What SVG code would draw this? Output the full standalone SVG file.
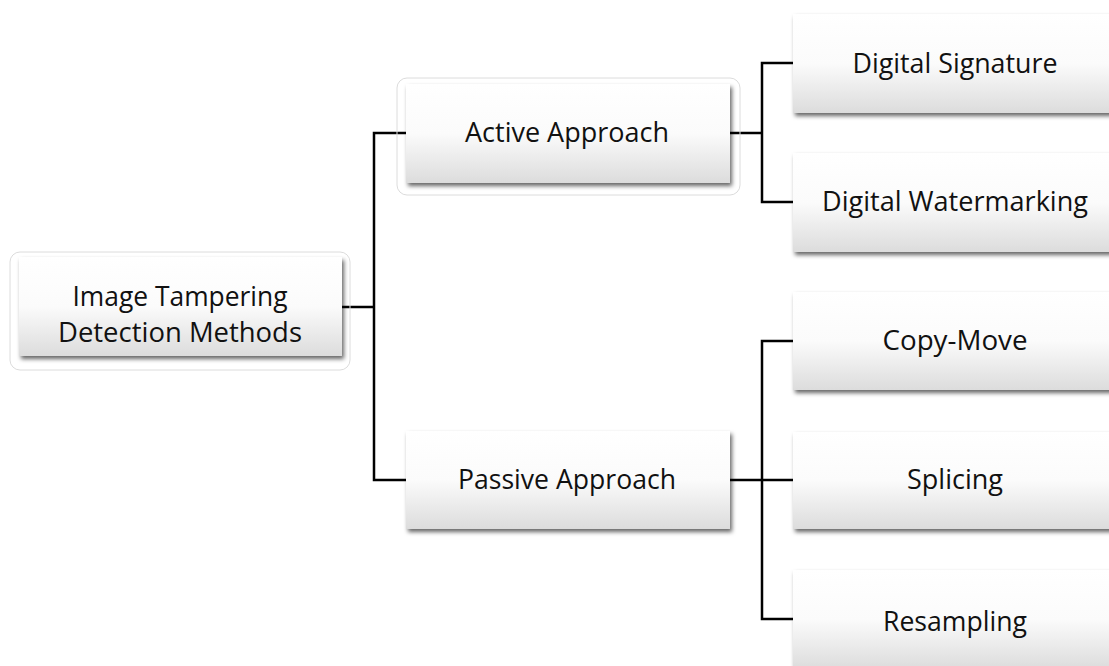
<svg xmlns="http://www.w3.org/2000/svg" width="1109" height="666" viewBox="0 0 1109 666">
<style>
.box{fill:url(#g);filter:url(#sh)}
.frame{fill:none;stroke:#dcdcdc;stroke-width:1}
.t{font-family:"Open Sans","Liberation Sans",sans-serif;font-size:28px;fill:#111;text-anchor:middle}
.c{fill:none;stroke:#000;stroke-width:2.5;stroke-linecap:square}
</style>
<defs>
<linearGradient id="g" x1="0" y1="0" x2="0" y2="1">
<stop offset="0" stop-color="#ffffff"/>
<stop offset="0.5" stop-color="#fbfbfb"/>
<stop offset="1" stop-color="#dcdcdc"/>
</linearGradient>
<filter id="sh" x="-10%" y="-10%" width="125%" height="130%">
<feDropShadow dx="2" dy="3" stdDeviation="2" flood-color="#000" flood-opacity="0.6"/>
</filter>
</defs>
<rect width="1109" height="666" fill="#fff"/>
<g id="connectors">
<path class="c" d="M342 307H374M374 133V480M374 133H406M374 480H406"/>
<path class="c" d="M730 133H762M762 63V202M762 63H793M762 202H793"/>
<path class="c" d="M730 480H793M762 341V619M762 341H793M762 619H793"/>
</g>
<g id="root">
<rect class="frame" x="10" y="252" width="340" height="118" rx="10"/>
<rect class="box" x="19" y="257" width="323" height="99"/>
<text class="t" x="180" y="306" textLength="215" lengthAdjust="spacingAndGlyphs">Image Tampering</text>
<text class="t" x="180" y="342" textLength="244" lengthAdjust="spacingAndGlyphs">Detection Methods</text>
</g>
<g id="active">
<rect class="frame" x="397" y="78" width="343" height="117" rx="10"/>
<rect class="box" x="406" y="84" width="324" height="99"/>
<text class="t" x="567" y="142" textLength="204" lengthAdjust="spacingAndGlyphs">Active Approach</text>
</g>
<g id="passive">
<rect class="box" x="406" y="431" width="324" height="98"/>
<text class="t" x="567" y="489" textLength="218" lengthAdjust="spacingAndGlyphs">Passive Approach</text>
</g>
<g id="signature">
<rect class="box" x="793" y="14" width="324" height="99"/>
<text class="t" x="955" y="73" textLength="205" lengthAdjust="spacingAndGlyphs">Digital Signature</text>
</g>
<g id="watermarking">
<rect class="box" x="793" y="153" width="324" height="99"/>
<text class="t" x="955" y="211" textLength="266" lengthAdjust="spacingAndGlyphs">Digital Watermarking</text>
</g>
<g id="copymove">
<rect class="box" x="793" y="292" width="324" height="98"/>
<text class="t" x="955" y="350" textLength="145" lengthAdjust="spacingAndGlyphs">Copy-Move</text>
</g>
<g id="splicing">
<rect class="box" x="793" y="432" width="324" height="97"/>
<text class="t" x="955" y="489" textLength="96" lengthAdjust="spacingAndGlyphs">Splicing</text>
</g>
<g id="resampling">
<rect class="box" x="793" y="570" width="324" height="99"/>
<text class="t" x="955" y="631" textLength="144" lengthAdjust="spacingAndGlyphs">Resampling</text>
</g>
</svg>
